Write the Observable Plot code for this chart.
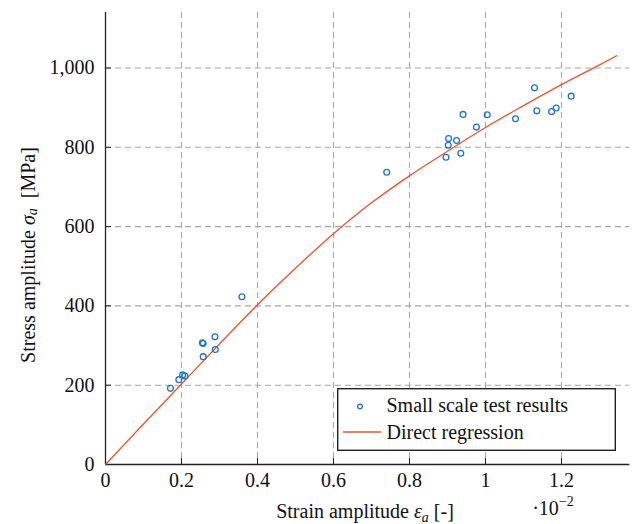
<!DOCTYPE html>
<html><head><meta charset="utf-8">
<script src="https://cdn.jsdelivr.net/npm/d3@7"></script>
<script src="https://cdn.jsdelivr.net/npm/@observablehq/plot@0.6"></script>
<style>
body{margin:0;background:#fff;}
#wrap{position:relative;width:632px;height:524px;font-family:'Liberation Serif','DejaVu Serif',serif;}
#wrap svg, #wrap svg text{font-family:'Liberation Serif','DejaVu Serif',serif !important;}
#legend{position:absolute;left:337px;top:388px;}
</style></head><body><div id="wrap"></div>
<script>
// Small scale test results (strain in 1e-2, stress in MPa)
const strain = [0.171, 0.193, 0.203, 0.209, 0.257, 0.257, 0.255, 0.288, 0.289, 0.359,
  0.740,
  1.129, 1.2255, 0.941, 1.0045, 1.079, 1.135, 1.174, 1.186, 0.976, 0.903, 0.924, 0.902, 0.896, 0.935];
const stress = [192, 214, 226, 223, 272, 305, 307, 322, 290, 423,
  737,
  950, 929, 883, 882, 872, 892, 890, 899, 851, 822, 817, 805, 775, 785];
// Direct regression curve
const fitStrain = [0, 0.1, 0.2, 0.3, 0.4, 0.5, 0.6, 0.7, 0.8, 0.9, 1.0, 1.1, 1.2, 1.3, 1.345];
const fitStress = [0, 102, 203, 304, 403, 495, 582, 660, 728, 790, 850, 905, 958, 1008, 1031];
const xTicks = [0, 0.2, 0.4, 0.6, 0.8, 1, 1.2];
const yTicks = [0, 200, 400, 600, 800, 1000];
const seriesNames = ["Small scale test results", "Direct regression"];
const colors = {points: "#1f74c6", line: "#e8552b"};

const pts = strain.map((x, i) => ({x, y: stress[i]}));
const fit = fitStrain.map((x, i) => ({x, y: fitStress[i]}));
const FONT = "'Liberation Serif', 'DejaVu Serif', serif";

const chart = Plot.plot({
  width: 632, height: 524,
  marginLeft: 105, marginRight: 2.6, marginTop: 12, marginBottom: 60,
  style: {fontFamily: FONT, fontSize: "20px", background: "white", color: "#111"},
  x: {domain: [0, 1.38]},
  y: {domain: [0, 1140]},
  marks: [
    Plot.gridX(xTicks.filter(d => d > 0), {stroke: "#a8a8a8", strokeOpacity: 1, strokeDasharray: "6,4", strokeWidth: 1.1}),
    Plot.gridY(yTicks.filter(d => d > 0), {stroke: "#a8a8a8", strokeOpacity: 1, strokeDasharray: "6,4", strokeWidth: 1.1}),
    Plot.axisX(xTicks, {tickSize: 6, dy: -6, tickPadding: 8, label: null, tickFormat: d => String(d), stroke: "#222", fontFamily: FONT}),
    Plot.axisY(yTicks, {tickSize: 6, dx: 6, tickPadding: 11, label: null, tickFormat: d3.format(","), stroke: "#222", fontFamily: FONT}),
    Plot.ruleY([0], {stroke: "#222", strokeWidth: 1.3}),
    Plot.ruleX([0], {stroke: "#222", strokeWidth: 1.3}),
    Plot.line(fit, {x: "x", y: "y", stroke: colors.line, strokeWidth: 1.3, curve: "monotone-x"}),
    Plot.dot(pts, {x: "x", y: "y", r: 2.9, stroke: colors.points, strokeWidth: 1.3, fill: "none"})
  ]
});
document.getElementById("wrap").appendChild(chart);

const svg = d3.select(chart);
// y label
const yl = svg.append("text")
  .attr("transform", "translate(28,255) rotate(-90)")
  .attr("text-anchor", "middle").attr("dominant-baseline", "central")
  .attr("font-size", 20).attr("fill", "#111");
yl.append("tspan").text("Stress amplitude ");
yl.append("tspan").attr("font-style", "italic").text("σ");
yl.append("tspan").attr("font-style", "italic").attr("font-size", 14).attr("dy", 4).text("a");
yl.append("tspan").attr("dy", -4).text("  [MPa]");
// x label
const xl = svg.append("text")
  .attr("x", 365).attr("y", 518)
  .attr("text-anchor", "middle").attr("font-size", 20).attr("fill", "#111");
xl.append("tspan").text("Strain amplitude ");
xl.append("tspan").attr("font-style", "italic").text("ε");
xl.append("tspan").attr("font-style", "italic").attr("font-size", 14).attr("dy", 4).text("a");
xl.append("tspan").attr("dy", -4).text(" [-]");
// exponent
const ex = svg.append("text").attr("x", 553).attr("y", 515).attr("font-size", 20).attr("fill", "#111");
ex.append("tspan").text("·10");
ex.append("tspan").attr("font-size", 14).attr("dy", -9).text("−2");

// legend
const lg = d3.select("#wrap").append("svg").attr("id", "legend").attr("width", 279).attr("height", 63);
lg.append("rect").attr("x", 0.7).attr("y", 0.7).attr("width", 277.6).attr("height", 61.6)
  .attr("fill", "white").attr("stroke", "#222").attr("stroke-width", 1.4);
lg.append("circle").attr("cx", 23).attr("cy", 18.5).attr("r", 2.3)
  .attr("fill", "none").attr("stroke", colors.points).attr("stroke-width", 1.3);
lg.append("line").attr("x1", 6).attr("x2", 44).attr("y1", 44).attr("y2", 44)
  .attr("stroke", colors.line).attr("stroke-width", 1.3);
lg.selectAll("text.lab").data(seriesNames).join("text")
  .attr("class", "lab")
  .attr("x", 49.5).attr("y", (d, i) => 17 + i * 27)
  .attr("dominant-baseline", "central")
  .attr("font-size", 20).attr("fill", "#111")
  .text(d => d);
</script></body></html>
